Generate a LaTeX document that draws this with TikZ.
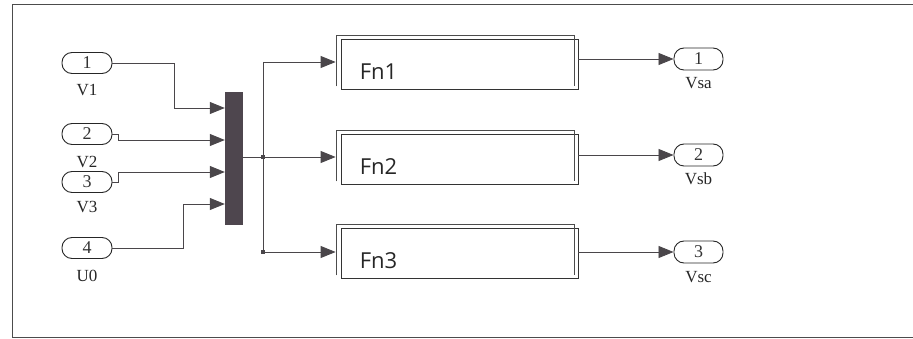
\documentclass[tikz,border=0pt]{standalone}
\usepackage{fontspec}
\setmainfont{Liberation Serif}
\newfontfamily\fnfont{Open Sans}
\usetikzlibrary{arrows.meta,positioning}
\definecolor{wirec}{HTML}{4A464A}
\definecolor{muxc}{HTML}{4E464E}
\tikzset{
  wire/.style={draw=wirec, line width=0.8pt},
  arr/.style={wire, -{Triangle[length=15pt,width=12pt]}},
  port/.style={draw=black!85, line width=0.9pt, rounded corners=10pt, minimum width=50pt, minimum height=21pt, inner sep=0pt, font=\fontsize{18}{18}\selectfont, text=black!80},
  plabel/.style={inner sep=0pt, font=\fontsize{17}{17}\selectfont, text=black!85},
  fnbox/.style={draw=black!80, line width=0.8pt, minimum width=237pt, minimum height=50pt, inner sep=0pt},
  fntext/.style={inner sep=0pt, font=\fnfont\fontsize{22}{22}\selectfont, text=black!85},
  muxbar/.style={fill=muxc, draw=muxc, minimum width=17pt, minimum height=132pt, inner sep=0pt},
  jdot/.style={fill=wirec, minimum size=3.5pt, inner sep=0pt},
}
\begin{document}
\begin{tikzpicture}[x=1pt,y=-1pt]
\useasboundingbox (0,0) rectangle (913,339);
% frame
\draw[draw=black!70, line width=1pt] (913,5) -- (12,5) -- (12,337) -- (913,337);

% input ports
\node[port] (in1) at (87,63) {\raisebox{1pt}{1}};
\node[port] (in2) at (87,134) {\raisebox{1pt}{2}};
\node[port] (in3) at (87,182) {\raisebox{1pt}{3}};
\node[port] (in4) at (87,248) {\raisebox{1pt}{4}};
\node[plabel] (lv1) at ([yshift=-16pt]in1.south) {V1};
\node[plabel] (lv2) at ([yshift=-17pt]in2.south) {V2};
\node[plabel] (lv3) at ([yshift=-14pt]in3.south) {V3};
\node[plabel] (lu0) at ([yshift=-17pt]in4.south) {U0};

% mux
\node[muxbar] (mux) at (233.5,158) {};
\coordinate (m1) at ([yshift=50pt]mux.west);
\coordinate (m2) at ([yshift=18pt]mux.west);
\coordinate (m3) at ([yshift=-14pt]mux.west);
\coordinate (m4) at ([yshift=-46pt]mux.west);

\draw[arr] (in1.east) -- ++(62,0) |- (m1);
\draw[arr] (in2.east) -- ++(6,0) |- (m2);
\draw[arr] (in3.east) -- ++(6,0) |- (m3);
\draw[arr] (in4.east) -- ++(71,0) |- (m4);

% function blocks
\node[fnbox] (fn1) at (459.5,64) {};
\node[fnbox] (fn2) at (459.5,159) {};
\node[fnbox] (fn3) at (459.5,253) {};
\foreach \f in {fn1,fn2,fn3}{
  \draw[draw=black!70, line width=0.8pt] ([shift={(-4,-3)}]\f.south west) -- ([shift={(-4,-3)}]\f.north west) -- ([shift={(-4,-3)}]\f.north east) -- ([shift={(-4,-3)}]\f.south east);
}
\node[fntext, anchor=west] at ([xshift=19pt,yshift=-8pt]fn1.west) {Fn1};
\node[fntext, anchor=west] at ([xshift=19pt,yshift=-8pt]fn2.west) {Fn2};
\node[fntext, anchor=west] at ([xshift=19pt,yshift=-8pt]fn3.west) {Fn3};

% branch
\coordinate (b1) at (263,62);
\coordinate (b2) at (263,157);
\coordinate (b3) at (263,252);
\draw[wire] (mux.east |- b2) -- (b2);
\draw[wire] (b1) -- (b3);
\node[jdot] (d2) at (b2) {};
\node[jdot] (d3) at (b3) {};
\draw[arr, shorten >=5pt] (b1) -- (b1 -| fn1.west);
\draw[arr, shorten >=5pt] (b2) -- (b2 -| fn2.west);
\draw[arr, shorten >=5pt] (b3) -- (b3 -| fn3.west);

% output ports
\node[port, minimum width=49pt, minimum height=22pt] (out1) at (698.5,59) {\raisebox{1pt}{1}};
\node[port, minimum width=49pt, minimum height=22pt] (out2) at (698.5,155) {\raisebox{1pt}{2}};
\node[port, minimum width=49pt, minimum height=22pt] (out3) at (698.5,252) {\raisebox{1pt}{3}};
\node[plabel] (lsa) at ([yshift=-13pt]out1.south) {Vsa};
\node[plabel] (lsb) at ([yshift=-12pt]out2.south) {Vsb};
\node[plabel] (lsc) at ([yshift=-14pt]out3.south) {Vsc};

\draw[arr] (fn1.east |- out1) -- (out1.west);
\draw[arr] (fn2.east |- out2) -- (out2.west);
\draw[arr] (fn3.east |- out3) -- (out3.west);
\end{tikzpicture}
\end{document}
